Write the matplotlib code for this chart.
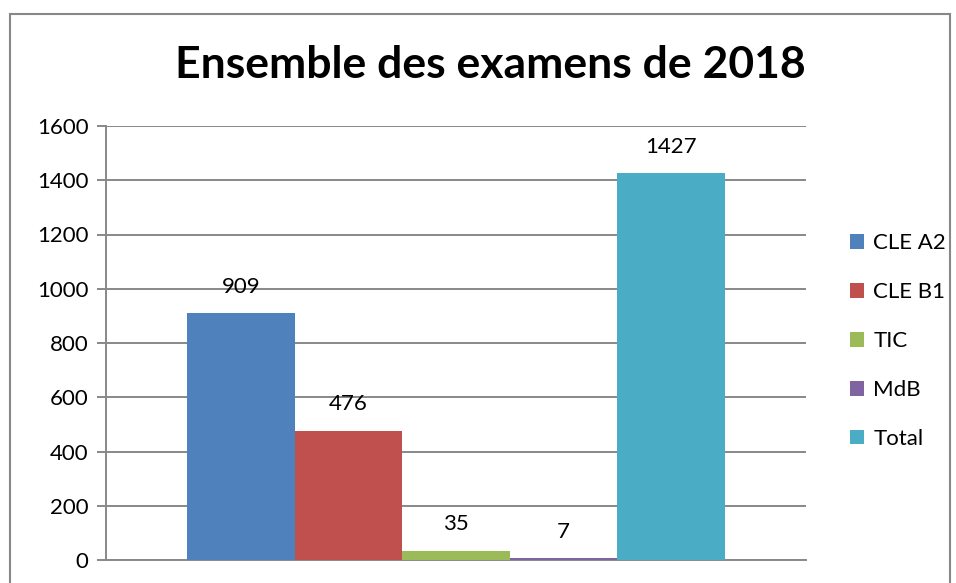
import matplotlib.pyplot as plt
from matplotlib.patches import Rectangle, Patch

# donnees
series = ['CLE A2', 'CLE B1', 'TIC', 'MdB', 'Total']
valeurs = [909, 476, 35, 7, 1427]
couleurs = ['#4F81BD', '#C0504D', '#9BBB59', '#8064A2', '#4BACC6']
yticks = [0, 200, 400, 600, 800, 1000, 1200, 1400, 1600]

plt.rcParams['font.family'] = ['Lato', 'DejaVu Sans']

fig = plt.figure(figsize=(9.56, 5.83), dpi=100)
ax = fig.add_axes([106 / 956, 23 / 583, 700 / 956, 434 / 583])

pos = list(range(len(series)))
ax.bar(pos, valeurs, width=1.0, color=couleurs, zorder=3)

for x, v in zip(pos, valeurs):
    ax.annotate(str(v), (x, v), xytext=(0, 19), textcoords='offset points',
                ha='center', va='center', fontsize=16)

ax.set_xlim(-1.253, 5.253)
ax.set_ylim(0, 1600)
ax.set_yticks(yticks)
ax.set_xticks([])
ax.grid(axis='y', color='#888888', linewidth=1.4, zorder=0)
for s in ['top', 'right']:
    ax.spines[s].set_visible(False)
for s in ['left', 'bottom']:
    ax.spines[s].set_color('#888888')
    ax.spines[s].set_linewidth(1.4)
ax.tick_params(axis='y', length=6.5, width=1.4, color='#888888', labelsize=16, pad=6)

fig.text(0.513, 0.888, 'Ensemble des examens de 2018', ha='center', va='center',
         fontsize=32, fontweight='bold')

handles = [Patch(facecolor=c) for c in couleurs]
fig.legend(handles, series, loc='center left', bbox_to_anchor=(830 / 956, 1 - 341 / 583),
           frameon=False, fontsize=16, handlelength=0.65, handleheight=0.65,
           labelspacing=1.3, handletextpad=0.4)

# cadre du graphique
fig.add_artist(Rectangle((10 / 956, -0.1), 940 / 956, 1.1 - 14 / 583, transform=fig.transFigure,
                         fill=False, edgecolor='#888888', linewidth=1.5))

plt.savefig('out.png', dpi=100)
